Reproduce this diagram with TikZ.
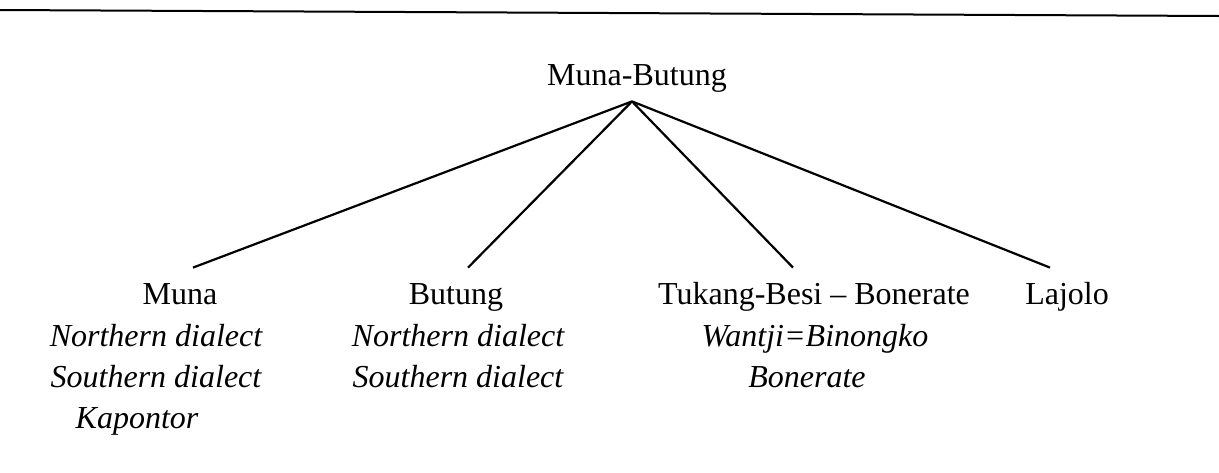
\documentclass[tikz,border=0pt]{standalone}
\usepackage{fontspec}
\setmainfont{Liberation Serif}
\usetikzlibrary{positioning}
\tikzset{
  % nome di una lingua
  lang/.style={font=\fontsize{16}{20}\selectfont, inner xsep=0pt, inner ysep=7pt,
    text height=11pt, text depth=3.5pt, anchor=base},
  % elenco dei dialetti
  dial/.style={font=\fontsize{16}{20.5}\selectfont\itshape, align=center, inner sep=0pt,
    anchor=north},
  % ramo dell'albero
  branch/.style={line width=1.1pt},
}
\begin{document}
\begin{tikzpicture}[x=0.5pt, y=-0.5pt]
  \useasboundingbox (0,0) rectangle (1219,472);
  % filetto in alto
  \draw[line width=1pt] (0,10) -- (1219,16);
  % radice
  \node[lang, inner ysep=4.5pt] (root) at (637,85) {Muna-Butung};
  % lingue
  \node[lang] (muna) at (180,304) {Muna};
  \node[lang] (butung) at (456,304) {Butung};
  \node[lang] (tukang) at (814,304) {Tukang-Besi \textendash{} Bonerate};
  \node[lang] (lajolo) at (1067,304) {Lajolo};
  % dialetti
  \node[dial] (muna d) at (156,324) {Northern dialect\\Southern dialect\\Kapontor\hspace*{19pt}};
  \node[dial] (butung d) at (458,324) {Northern dialect\\Southern dialect};
  \node[dial] (tukang d) at (815,324) {Wantji=Binongko\\Bonerate\hspace*{8pt}};
  % rami
  \draw[branch] ([xshift=-2.5pt]root.south) -- ([xshift=6.5pt]muna.north);
  \draw[branch] ([xshift=-2.5pt]root.south) -- ([xshift=6pt]butung.north);
  \draw[branch] ([xshift=-2.5pt]root.south) -- ([xshift=-10.5pt]tukang.north);
  \draw[branch] ([xshift=-2.5pt]root.south) -- ([xshift=-8.5pt]lajolo.north);
\end{tikzpicture}
\end{document}
